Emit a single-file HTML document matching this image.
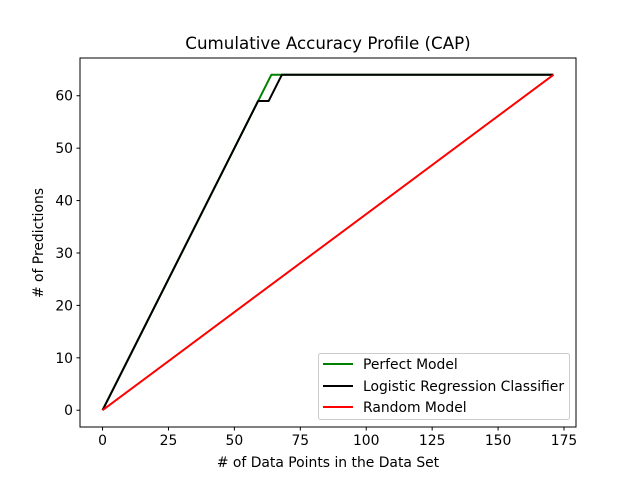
<!DOCTYPE html>
<html><head><meta charset="utf-8"><style>
body{margin:0;background:#fff}
svg{display:block;font-family:"DejaVu Sans","Liberation Sans",sans-serif}
</style></head><body>
<svg id="chart" width="640" height="480" xmlns="http://www.w3.org/2000/svg">
<rect width="640" height="480" fill="#fff"/>
<g id="marks"></g>
<rect x="80" y="58" width="496" height="369" fill="none" stroke="#000" stroke-width="1"/>
<g id="xt" font-size="13.9" text-anchor="middle"></g>
<g id="yt" font-size="13.9" text-anchor="end"></g>
<text x="328" y="49" font-size="16.7" text-anchor="middle">Cumulative Accuracy Profile (CAP)</text>
<text x="328" y="467" font-size="13.9" text-anchor="middle"># of Data Points in the Data Set</text>
<text x="0" y="0" font-size="13.9" text-anchor="middle" transform="translate(43,243) rotate(-90)"># of Predictions</text>
<g>
<rect x="318.5" y="353.5" width="251" height="66" rx="2" fill="#fff" fill-opacity="0.8" stroke="#ccc"/>
<line x1="323" y1="364" x2="353" y2="364" stroke="green" stroke-width="2"/>
<text x="363" y="369" font-size="13.9">Perfect Model</text>
<line x1="323" y1="386" x2="353" y2="386" stroke="#000" stroke-width="2"/>
<text x="363" y="391" font-size="13.9">Logistic Regression Classifier</text>
<line x1="323" y1="407" x2="353" y2="407" stroke="red" stroke-width="2"/>
<text x="363" y="412" font-size="13.9">Random Model</text>
</g>
</svg>
<script>
const perfectX=[0,64,171];
const perfectY=[0,64,64];
const logisticX=[0,59,63,68,171];
const logisticY=[0,59,59,64,64];
const randomX=[0,171];
const randomY=[0,64];
const xTicks=[0,25,50,75,100,125,150,175];
const yTicks=[0,10,20,30,40,50,60];
const xMin=-8.55,xMax=179.55,yMin=-3.2,yMax=67.2;
const L=80,R=576,T=58,B=427;
function sx(v){return L+(v-xMin)/(xMax-xMin)*(R-L);}
function sy(v){return B-(v-yMin)/(yMax-yMin)*(B-T);}
const NS="http://www.w3.org/2000/svg";
const marks=document.getElementById('marks');
function line(xs,ys,color,name){
  const p=document.createElementNS(NS,'polyline');
  p.setAttribute('points',xs.map((x,i)=>sx(x)+','+sy(ys[i])).join(' '));
  p.setAttribute('fill','none');p.setAttribute('stroke',color);p.setAttribute('stroke-width','2');
  p.setAttribute('stroke-linejoin','round');
  
  
  marks.appendChild(p);
}
line(perfectX,perfectY,'green','perfect-model-line');
line(logisticX,logisticY,'#000','logistic-regression-line');
line(randomX,randomY,'red','random-model-line');
const xt=document.getElementById('xt');
xTicks.forEach(v=>{
  const x=sx(v);
  const l=document.createElementNS(NS,'line');
  l.setAttribute('x1',x);l.setAttribute('x2',x);l.setAttribute('y1',B);l.setAttribute('y2',B+3.5);l.setAttribute('stroke','#000');
  
  
  xt.appendChild(l);
  const t=document.createElementNS(NS,'text');
  t.setAttribute('x',x);t.setAttribute('y',B+18);t.textContent=v;
  
  
  xt.appendChild(t);
});
const yt=document.getElementById('yt');
yTicks.forEach(v=>{
  const y=sy(v);
  const l=document.createElementNS(NS,'line');
  l.setAttribute('x1',L-3.5);l.setAttribute('x2',L);l.setAttribute('y1',y);l.setAttribute('y2',y);l.setAttribute('stroke','#000');
  
  
  yt.appendChild(l);
  const t=document.createElementNS(NS,'text');
  t.setAttribute('x',L-7);t.setAttribute('y',y+5);t.textContent=v;
  
  
  yt.appendChild(t);
});
</script>
</body></html>
